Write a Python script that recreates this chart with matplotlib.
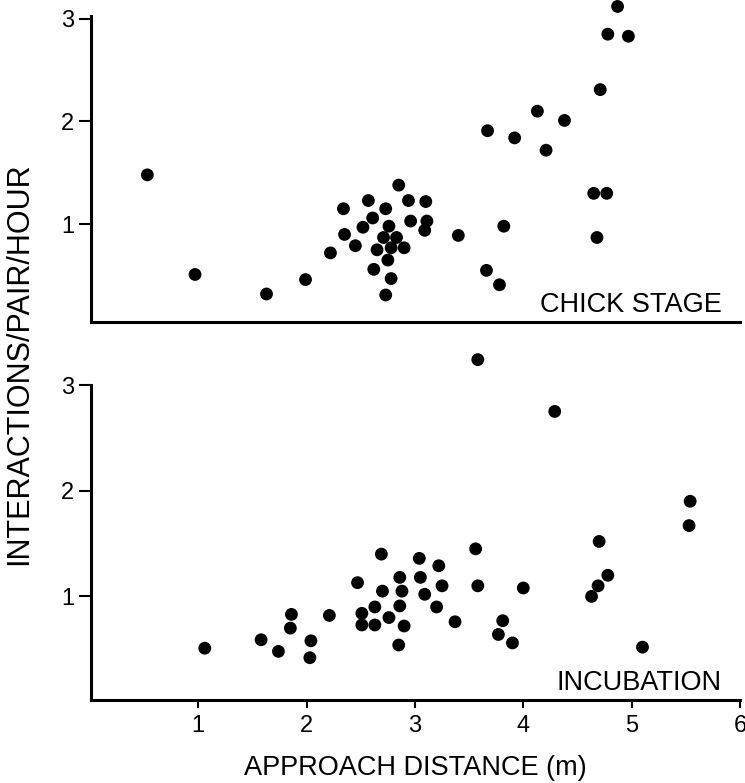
import matplotlib
matplotlib.use("Agg")
import matplotlib.pyplot as plt

plt.rcParams['font.family'] = ['Liberation Sans', 'DejaVu Sans']

# chick stage: approach distance (m) vs interactions/pair/hour
chick_x = [0.53, 0.97, 1.63, 1.99, 2.22, 2.34, 2.35, 2.45, 2.52, 2.57, 2.61,
           2.62, 2.65, 2.71, 2.73, 2.73, 2.75, 2.76, 2.78, 2.78, 2.83, 2.85,
           2.90, 2.94, 2.96, 3.10, 3.11, 3.09, 3.40, 3.82, 3.66, 3.78, 3.67,
           3.92, 4.13, 4.38, 4.21, 4.71, 4.87, 4.78, 4.97, 4.65, 4.77, 4.68]
chick_y = [1.48, 0.51, 0.32, 0.46, 0.72, 1.15, 0.90, 0.79, 0.97, 1.23, 1.06,
           0.56, 0.75, 0.87, 1.15, 0.31, 0.65, 0.98, 0.77, 0.47, 0.87, 1.38,
           0.77, 1.23, 1.03, 1.22, 1.03, 0.94, 0.89, 0.98, 0.55, 0.41, 1.91,
           1.84, 2.10, 2.01, 1.72, 2.31, 3.12, 2.85, 2.83, 1.30, 1.30, 0.87]

# incubation
incub_x = [1.06, 1.58, 1.74, 1.85, 1.86, 2.04, 2.03, 2.21, 2.47, 2.51, 2.51,
           2.63, 2.63, 2.69, 2.70, 2.76, 2.85, 2.86, 2.88, 2.86, 2.90, 3.04,
           3.05, 3.09, 3.22, 3.25, 3.20, 3.37, 3.56, 3.58, 3.58, 4.29, 4.00,
           3.81, 3.77, 3.90, 4.70, 4.78, 4.69, 4.63, 5.10, 5.54, 5.53]
incub_y = [0.51, 0.59, 0.48, 0.70, 0.83, 0.58, 0.42, 0.82, 1.13, 0.84, 0.73,
           0.73, 0.90, 1.40, 1.05, 0.80, 0.54, 1.18, 1.05, 0.91, 0.72, 1.36,
           1.18, 1.02, 1.29, 1.10, 0.90, 0.76, 1.45, 1.10, 3.24, 2.75, 1.08,
           0.77, 0.64, 0.56, 1.52, 1.20, 1.10, 1.00, 0.52, 1.90, 1.67]

fig = plt.figure(figsize=(7.45, 7.83), dpi=100)

ax_top = fig.add_axes([91 / 745, 1 - 321.7 / 783, 649 / 745, 306 / 783])
ax_bot = fig.add_axes([91 / 745, 1 - 700 / 783, 649 / 745, 315 / 783])

panels = [(ax_top, chick_x, chick_y, 'CHICK STAGE', (0.05, 3.03)),
          (ax_bot, incub_x, incub_y, 'INCUBATION', (0.02, 3.0))]

for ax, xs, ys, name, ylim in panels:
    ax.scatter(xs, ys, s=85, color='black', edgecolors='none', clip_on=False, zorder=3)
    ax.set_xlim(0.01, 6)
    ax.set_ylim(*ylim)
    ax.set_yticks([1, 2, 3])
    ax.set_yticklabels(['1', '2', '3'], fontsize=17)
    for side in ['top', 'right']:
        ax.spines[side].set_visible(False)
    for side in ['left', 'bottom']:
        ax.spines[side].set_linewidth(2.2)
    ax.tick_params(axis='y', direction='out', length=8.5, width=1.5, pad=3.5)
    ax.text(0.972, 0.012, name, transform=ax.transAxes, ha='right', va='bottom',
            fontsize=19.5)

ax_top.set_xticks([])
ax_bot.set_xticks([1, 2, 3, 4, 5, 6])
ax_bot.set_xticklabels(['1', '2', '3', '4', '5', '6'], fontsize=17)
ax_bot.tick_params(axis='x', direction='out', length=5.5, width=1.5, pad=5)

fig.text(415 / 745, 1 - 768 / 783, 'APPROACH DISTANCE (m)', ha='center', va='center',
         fontsize=19.5)
fig.text(19 / 745, 1 - 364 / 783, 'INTERACTIONS/PAIR/HOUR', ha='center', va='center',
         rotation=90, fontsize=22)

fig.savefig('out.png', dpi=100)
